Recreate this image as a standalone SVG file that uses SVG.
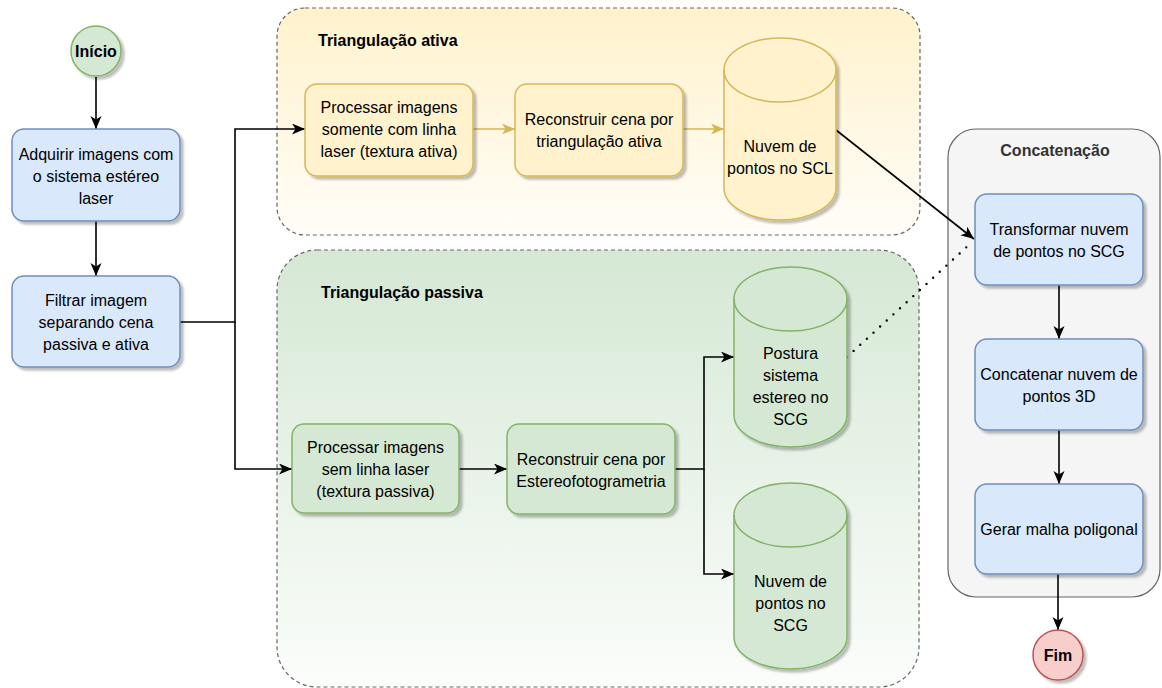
<svg xmlns="http://www.w3.org/2000/svg" width="1162" height="688" viewBox="0 0 1162 688">
  <defs>
    <linearGradient id="gradAtiva" x1="0" y1="0" x2="0" y2="1">
      <stop offset="0" stop-color="#fff2cc"/>
      <stop offset="1" stop-color="#fffdf8"/>
    </linearGradient>
    <linearGradient id="gradPassiva" x1="0" y1="0" x2="0" y2="1">
      <stop offset="0" stop-color="#d5e8d4"/>
      <stop offset="1" stop-color="#fbfdfb"/>
    </linearGradient>
    <filter id="shadow" x="-10%" y="-10%" width="130%" height="130%">
      <feDropShadow dx="3" dy="3" stdDeviation="1.2" flood-color="#000" flood-opacity="0.25"/>
    </filter>
    <marker id="arrow" markerUnits="userSpaceOnUse" markerWidth="14" markerHeight="12" refX="13" refY="5.5" orient="auto">
      <path d="M0,0 L13,5.5 L0,11 L3.5,5.5 Z" fill="#000"/>
    </marker>
    <marker id="arrowY" markerUnits="userSpaceOnUse" markerWidth="14" markerHeight="12" refX="13" refY="5.5" orient="auto">
      <path d="M0,0 L13,5.5 L0,11 L3.5,5.5 Z" fill="#d6b656"/>
    </marker>
  </defs>
  <style>
    text { font-family: "Liberation Sans", Arial, sans-serif; font-size: 16px; fill: #000; text-anchor: middle; }
    .title { font-weight: bold; text-anchor: start; }
    .bold { font-weight: bold; }
    .blue { fill: #dae8fc; stroke: #6c8ebf; stroke-width: 1.5; filter: url(#shadow); }
    .green { fill: #d5e8d4; stroke: #82b366; stroke-width: 1.5; filter: url(#shadow); }
    .yellow { fill: #fff2cc; stroke: #d6b656; stroke-width: 1.5; filter: url(#shadow); }
    .red { fill: #f8cecc; stroke: #b85450; stroke-width: 1.5; filter: url(#shadow); }
    .cyl-top { fill: none; stroke-width: 1.5; }
    .group-box { stroke: #666; stroke-width: 1.2; stroke-dasharray: 4 3; }
    .edge { fill: none; stroke: #000; stroke-width: 1.6; }
    .edge-y { fill: none; stroke: #d6b656; stroke-width: 1.6; }
    .dotted { fill: none; stroke: #000; stroke-width: 2.4; stroke-dasharray: 0 9; stroke-linecap: round; }
  </style>

  <!-- Containers -->
  <g id="grupo-ativa">
    <rect x="277" y="8" width="643" height="227" rx="28" fill="url(#gradAtiva)" class="group-box"/>
    <text class="title" x="318" y="46">Triangulação ativa</text>
  </g>
  <g id="grupo-passiva">
    <rect x="277" y="250" width="642" height="437" rx="40" fill="url(#gradPassiva)" class="group-box"/>
    <text class="title" x="321" y="298">Triangulação passiva</text>
  </g>
  <g id="grupo-concatenacao">
    <rect x="948" y="129" width="212" height="468" rx="28" fill="#f5f5f5" stroke="#666" stroke-width="1.2"/>
    <text class="bold" x="1055" y="156" style="fill:#333">Concatenação</text>
  </g>

  <!-- Connectors -->
  <g id="conectores">
    <path class="edge" d="M96,77 V129" marker-end="url(#arrow)"/>
    <path class="edge" d="M96,221 V276" marker-end="url(#arrow)"/>
    <path class="edge" d="M180,322 H235 V129 H305" marker-end="url(#arrow)"/>
    <path class="edge" d="M235,322 V469 H292" marker-end="url(#arrow)"/>
    <path class="edge-y" d="M473,129 H515" marker-end="url(#arrowY)"/>
    <path class="edge-y" d="M683,129 H724" marker-end="url(#arrowY)"/>
    <path class="edge" d="M836,130 L974,239" marker-end="url(#arrow)"/>
    <path class="edge" d="M459,469 H507" marker-end="url(#arrow)"/>
    <path class="edge" d="M675,469 H704 V357 H734" marker-end="url(#arrow)"/>
    <path class="edge" d="M704,469 V574 H734" marker-end="url(#arrow)"/>
    <path class="dotted" d="M847,357 L971,243"/>
    <path class="edge" d="M1059,285 V339" marker-end="url(#arrow)"/>
    <path class="edge" d="M1059,430 V484" marker-end="url(#arrow)"/>
    <path class="edge" d="M1058,574 V630" marker-end="url(#arrow)"/>
  </g>

  <!-- Nodes -->
  <g id="inicio">
    <circle cx="96" cy="51" r="25" class="green"/>
    <text class="bold" x="96" y="57">Início</text>
  </g>
  <g id="adquirir">
    <rect x="12" y="129" width="168" height="92" rx="12" class="blue"/>
    <text x="96" y="160">Adquirir imagens com</text>
    <text x="96" y="182">o sistema estéreo</text>
    <text x="96" y="204">laser</text>
  </g>
  <g id="filtrar">
    <rect x="12" y="276" width="168" height="91" rx="12" class="blue"/>
    <text x="96" y="306">Filtrar imagem</text>
    <text x="96" y="328">separando cena</text>
    <text x="96" y="350">passiva e ativa</text>
  </g>

  <g id="processar-ativa">
    <rect x="305" y="84" width="168" height="92" rx="12" class="yellow"/>
    <text x="389" y="113">Processar imagens</text>
    <text x="389" y="135">somente com linha</text>
    <text x="389" y="157">laser (textura ativa)</text>
  </g>
  <g id="reconstruir-ativa">
    <rect x="515" y="84" width="168" height="92" rx="12" class="yellow"/>
    <text x="599" y="125">Reconstruir cena por</text>
    <text x="599" y="147">triangulação ativa</text>
  </g>
  <g id="nuvem-scl">
    <path class="yellow" d="M724,70 A56,32 0 0 1 836,70 V188 A56,32 0 0 1 724,188 Z"/>
    <path class="cyl-top" stroke="#d6b656" d="M724,70 A56,32 0 0 0 836,70"/>
    <text x="780" y="152">Nuvem de</text>
    <text x="780" y="174">pontos no SCL</text>
  </g>

  <g id="processar-passiva">
    <rect x="292" y="424" width="167" height="89" rx="12" class="green"/>
    <text x="375.5" y="453">Processar imagens</text>
    <text x="375.5" y="475">sem linha laser</text>
    <text x="375.5" y="497">(textura passiva)</text>
  </g>
  <g id="reconstruir-passiva">
    <rect x="507" y="424" width="168" height="90" rx="12" class="green"/>
    <text x="591" y="465">Reconstruir cena por</text>
    <text x="591" y="487">Estereofotogrametria</text>
  </g>
  <g id="postura">
    <path class="green" d="M734,299 A56.5,32 0 0 1 847,299 V415 A56.5,32 0 0 1 734,415 Z"/>
    <path class="cyl-top" stroke="#82b366" d="M734,299 A56.5,32 0 0 0 847,299"/>
    <text x="790.5" y="359">Postura</text>
    <text x="790.5" y="381">sistema</text>
    <text x="790.5" y="403">estereo no</text>
    <text x="790.5" y="425">SCG</text>
  </g>
  <g id="nuvem-scg">
    <path class="green" d="M734,515 A56.5,32 0 0 1 847,515 V637 A56.5,32 0 0 1 734,637 Z"/>
    <path class="cyl-top" stroke="#82b366" d="M734,515 A56.5,32 0 0 0 847,515"/>
    <text x="790.5" y="587">Nuvem de</text>
    <text x="790.5" y="609">pontos no</text>
    <text x="790.5" y="631">SCG</text>
  </g>

  <g id="transformar">
    <rect x="975" y="194" width="168" height="91" rx="12" class="blue"/>
    <text x="1059" y="235">Transformar nuvem</text>
    <text x="1059" y="257">de pontos no SCG</text>
  </g>
  <g id="concatenar">
    <rect x="975" y="339" width="168" height="91" rx="12" class="blue"/>
    <text x="1059" y="380">Concatenar nuvem de</text>
    <text x="1059" y="402">pontos 3D</text>
  </g>
  <g id="gerar">
    <rect x="975" y="484" width="168" height="90" rx="12" class="blue"/>
    <text x="1059" y="535">Gerar malha poligonal</text>
  </g>
  <g id="fim">
    <circle cx="1058" cy="655" r="25" class="red"/>
    <text class="bold" x="1058" y="661">Fim</text>
  </g>
</svg>
